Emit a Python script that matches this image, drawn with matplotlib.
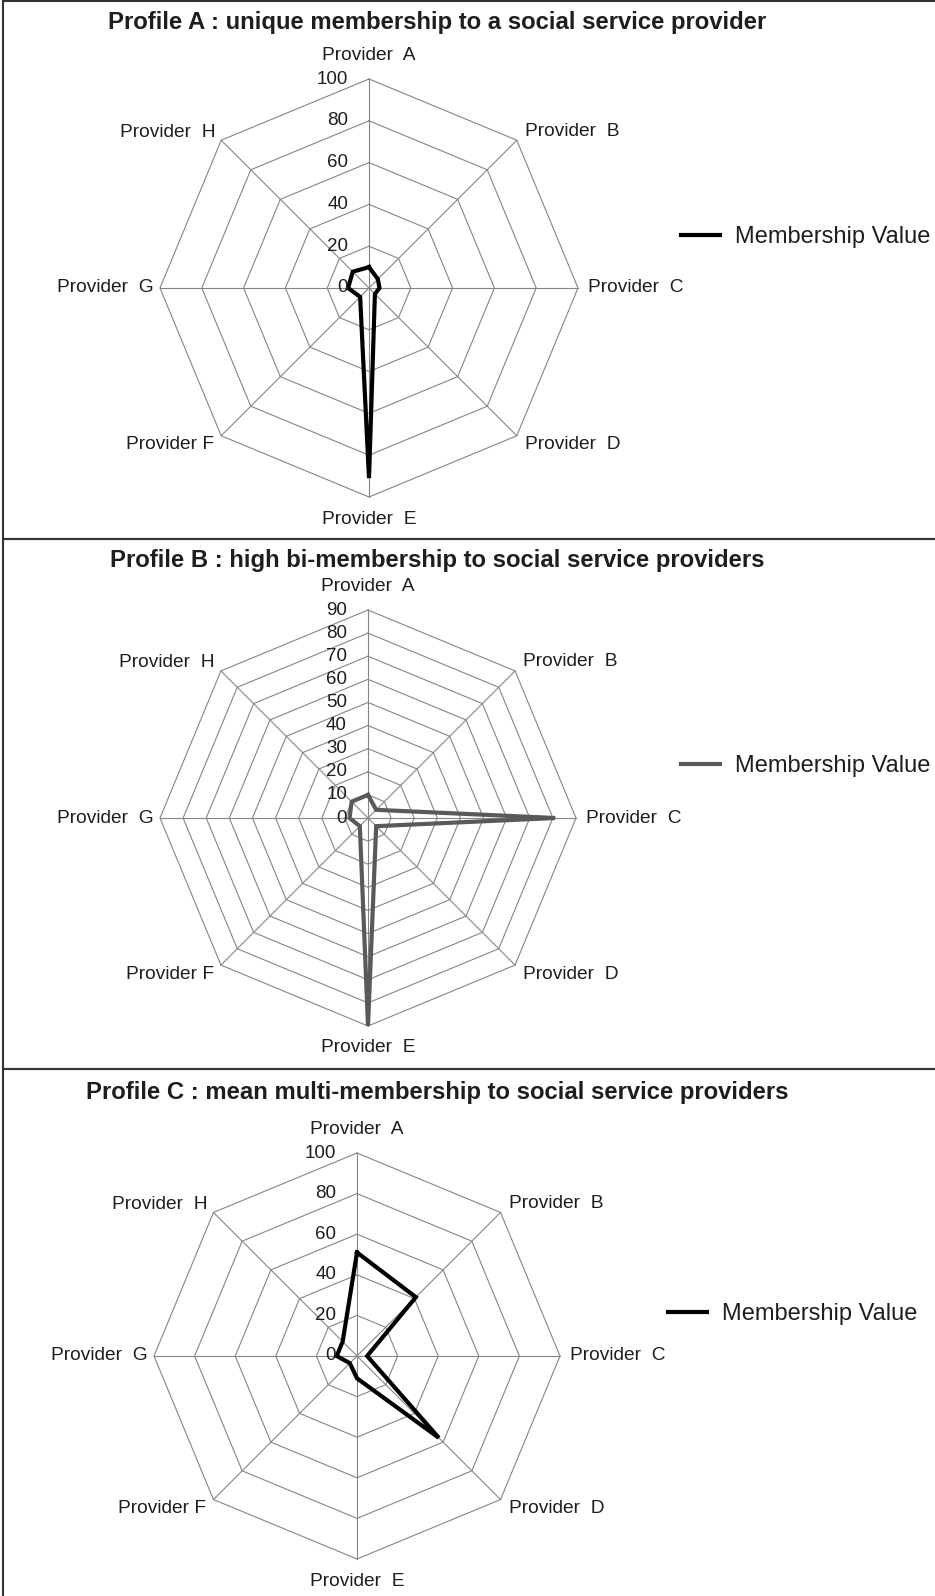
import numpy as np
import matplotlib
matplotlib.use('Agg')
import matplotlib.pyplot as plt
from matplotlib.patches import Rectangle

plt.rcParams['font.family'] = ['Liberation Sans', 'DejaVu Sans']

# categories (clockwise from top)
providers = ['Provider  A', 'Provider  B', 'Provider  C', 'Provider  D',
             'Provider  E', 'Provider F', 'Provider  G', 'Provider  H']

titles = ['Profile A : unique membership to a social service provider',
          'Profile B : high bi-membership to social service providers',
          'Profile C : mean multi-membership to social service providers']

# membership values per provider, one list per profile
profile_a = [10, 6, 5, 4, 91, 6, 10, 11]
profile_b = [10, 5, 81, 5, 90, 5, 8, 10]
profile_c = [51, 41, 5, 57, 11, 5, 10, 10]

# radial tick values
ticks_a = [0, 20, 40, 60, 80, 100]
ticks_b = [0, 10, 20, 30, 40, 50, 60, 70, 80, 90]
ticks_c = [0, 20, 40, 60, 80, 100]

W, H = 935, 1596
fig = plt.figure(figsize=(W / 100, H / 100), dpi=100)

GRID = '#858585'
TXT = '#1e1e1e'

# label offsets in pixels (dx, dy, ha) for each direction
label_pos = [(0, 24, 'center'), (8, 9, 'left'), (10, 0, 'left'), (8, -9, 'left'),
             (0, -22, 'center'), (-7, -9, 'right'), (-6, 0, 'right'), (-6, 8, 'right')]


def radar(cx, cy, rad, values, ticks, color, title, title_y, leg_xy):
    ax = fig.add_axes([(cx - rad) / W, 1 - (cy + rad) / H, 2 * rad / W, 2 * rad / H],
                      projection='polar')
    ax.set_theta_zero_location('N')
    ax.set_theta_direction(-1)
    ax.set_ylim(0, ticks[-1])
    ax.grid(False)
    ax.spines['polar'].set_visible(False)
    ax.set_xticks([])
    ax.set_yticks([])
    ax.patch.set_alpha(0)

    n = len(values)
    ang = np.linspace(0, 2 * np.pi, n, endpoint=False)
    ang_c = np.append(ang, ang[0])

    for t in ticks[1:]:
        ax.plot(ang_c, [t] * (n + 1), color=GRID, lw=0.8, clip_on=False)
    for a in ang:
        ax.plot([a, a], [0, ticks[-1]], color=GRID, lw=0.8, clip_on=False)

    for t in ticks:
        ax.annotate(str(t), (0, t), xytext=(-21, 0), textcoords='offset pixels',
                    ha='right', va='center', fontsize=13.5, color=TXT)

    for a, lab, (dx, dy, ha) in zip(ang, providers, label_pos):
        ax.annotate(lab, (a, ticks[-1]), xytext=(dx, dy), textcoords='offset pixels',
                    ha=ha, va='center', fontsize=13.8, color=TXT, annotation_clip=False)

    ax.plot(ang_c, np.append(values, values[0]), color=color, lw=3,
            solid_joinstyle='miter', clip_on=False, label='Membership Value')

    fig.text(437 / W, 1 - title_y / H, title, ha='center', va='center',
             fontsize=17.2, fontweight='bold', color=TXT)

    ax.legend(loc='center left', bbox_to_anchor=(leg_xy[0] / W, 1 - leg_xy[1] / H),
              bbox_transform=fig.transFigure, frameon=False, fontsize=17,
              handlelength=1.65, handletextpad=0.64, borderpad=0, borderaxespad=0,
              labelcolor=TXT)


radar(369, 288, 209, profile_a, ticks_a, 'black', titles[0], 22, (681, 237))
radar(368, 818, 208, profile_b, ticks_b, '#595959', titles[1], 560, (681, 766))
radar(357, 1356, 203, profile_c, ticks_c, 'black', titles[2], 1092, (668, 1314))

# panel frames
for y0, y1 in [(1, 539), (539, 1069), (1069, 1600)]:
    fig.add_artist(Rectangle((3 / W, 1 - y1 / H), 1.0, (y1 - y0) / H,
                             transform=fig.transFigure, fill=False,
                             edgecolor='#333333', lw=1.5))

fig.savefig('out.png', dpi=100)
